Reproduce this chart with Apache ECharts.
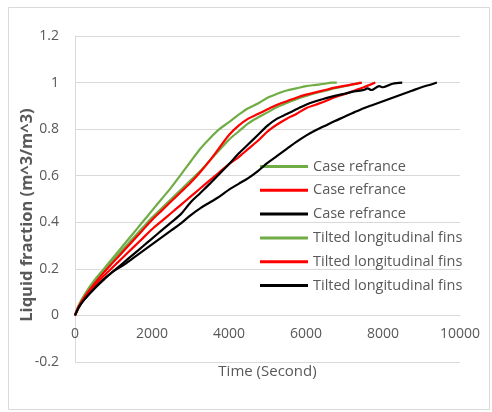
<!DOCTYPE html>
<html>
<head>
<meta charset="utf-8">
<script src="https://cdn.jsdelivr.net/npm/echarts@6/dist/echarts.min.js"></script>
<style>
html,body{margin:0;padding:0;background:#fff;}
#chart{width:492px;height:412px;}
</style>
</head>
<body>
<div id="chart"></div>
<script>
// Legend labels
var legendNames = ["Case refrance", "Case refrance", "Case refrance",
                   "Tilted longitudinal fins", "Tilted longitudinal fins", "Tilted longitudinal fins"];
var seriesColors = ["#70AD47", "#FF0000", "#000000", "#70AD47", "#FF0000", "#000000"];

// Axis ticks
var xTicks = [0, 2000, 4000, 6000, 8000, 10000];
var yTicks = [-0.2, 0, 0.2, 0.4, 0.6, 0.8, 1, 1.2];

// Case refrance - green
var timeCaseGreen = [0,100,250,500,750,1000,1250,1500,1750,2000,2250,2500,2750,3000,3250,3500,3750,4000,4250,4500,4750,5000,5250,5500,5750,6000,6250,6500,6750,7000,7250,7400];
var fracCaseGreen = [0,0.042,0.085,0.142,0.192,0.24,0.285,0.33,0.375,0.42,0.46,0.5,0.54,0.58,0.62,0.665,0.71,0.755,0.79,0.825,0.85,0.872,0.895,0.912,0.928,0.942,0.955,0.965,0.976,0.985,0.993,1.0];

// Case refrance - red
var timeCaseRed = [0,100,250,500,750,1000,1250,1500,1750,2000,2250,2500,2750,3000,3250,3500,3750,4000,4250,4500,4750,5000,5250,5500,5750,6000,6250,6500,6750,7000,7250,7500,7650,7800];
var fracCaseRed = [0,0.035,0.075,0.125,0.17,0.21,0.25,0.29,0.33,0.37,0.405,0.44,0.475,0.51,0.545,0.58,0.615,0.65,0.68,0.715,0.75,0.79,0.82,0.845,0.865,0.89,0.905,0.92,0.937,0.95,0.965,0.98,0.99,1.0];

// Case refrance - black
var timeCaseBlack = [0,100,250,500,750,1000,1250,1500,1750,2000,2250,2500,2750,3000,3250,3500,3750,4000,4250,4500,4750,5000,5250,5500,5750,6000,6250,6500,6750,7000,7250,7500,7750,8000,8250,8500,8750,9000,9250,9400];
var fracCaseBlack = [0,0.035,0.07,0.115,0.155,0.19,0.215,0.245,0.275,0.305,0.335,0.365,0.395,0.43,0.46,0.485,0.51,0.54,0.565,0.59,0.62,0.655,0.685,0.715,0.745,0.772,0.795,0.815,0.835,0.853,0.872,0.89,0.905,0.92,0.935,0.95,0.965,0.98,0.992,1.0];

// Tilted longitudinal fins - green
var timeFinsGreen = [0,100,250,500,750,1000,1250,1500,1750,2000,2250,2500,2750,3000,3250,3500,3750,4000,4250,4500,4750,5000,5250,5500,5750,6000,6250,6500,6650,6800];
var fracFinsGreen = [0,0.045,0.09,0.15,0.2,0.25,0.3,0.35,0.4,0.45,0.5,0.55,0.605,0.66,0.715,0.76,0.8,0.83,0.862,0.89,0.91,0.935,0.952,0.966,0.975,0.985,0.99,0.995,1.0,1.0];

// Tilted longitudinal fins - red
var timeFinsRed = [0,100,250,500,750,1000,1250,1500,1750,2000,2250,2500,2750,3000,3250,3500,3750,4000,4250,4500,4750,5000,5250,5500,5750,6000,6250,6500,6750,7000,7250,7450];
var fracFinsRed = [0,0.04,0.08,0.135,0.185,0.23,0.275,0.32,0.365,0.41,0.45,0.49,0.53,0.57,0.615,0.665,0.72,0.775,0.815,0.845,0.865,0.885,0.905,0.92,0.935,0.948,0.958,0.968,0.978,0.986,0.993,1.0];

// Tilted longitudinal fins - black
var timeFinsBlack = [0,100,250,500,750,1000,1250,1500,1750,2000,2250,2500,2750,3000,3250,3500,3750,4000,4250,4500,4750,5000,5250,5500,5750,6000,6250,6500,6750,7000,7250,7500,7600,7700,7900,8000,8250,8500];
var fracFinsBlack = [0,0.035,0.07,0.115,0.155,0.19,0.225,0.26,0.295,0.33,0.365,0.4,0.435,0.485,0.525,0.565,0.607,0.65,0.695,0.735,0.775,0.815,0.845,0.865,0.885,0.905,0.92,0.932,0.943,0.952,0.962,0.968,0.975,0.968,0.985,0.98,0.995,1.0];

var seriesTimes = [timeCaseGreen, timeCaseRed, timeCaseBlack, timeFinsGreen, timeFinsRed, timeFinsBlack];
var seriesFracs = [fracCaseGreen, fracCaseRed, fracCaseBlack, fracFinsGreen, fracFinsRed, fracFinsBlack];

function pairs(ts, vs) {
  var out = [];
  for (var i = 0; i < ts.length; i++) out.push([ts[i], vs[i]]);
  return out;
}

var series = [];
var legendData = [];
for (var k = 0; k < 6; k++) {
  var id = legendNames[k] + '#' + k;
  legendData.push(id);
  series.push({
    name: id,
    type: 'line',
    data: pairs(seriesTimes[k], seriesFracs[k]),
    showSymbol: false,
    smooth: 0.3,
    color: seriesColors[k],
    lineStyle: { width: 2.2, color: seriesColors[k] },
    z: 2 + k
  });
}

var FONT = "'Open Sans', sans-serif";
var GRID_TOP = 36, GRID_BOTTOM = 50;
var plotH = 412 - GRID_TOP - GRID_BOTTOM;
var yMin = yTicks[0], yMax = yTicks[yTicks.length - 1];
// distance from bottom of plot to the y = 0 line
var zeroOffset = plotH * (0 - yMin) / (yMax - yMin);

var chart = echarts.init(document.getElementById('chart'), null, { renderer: 'canvas' });
chart.setOption({
  animation: false,
  backgroundColor: '#ffffff',
  graphic: [{
    type: 'rect',
    shape: { x: 8.5, y: 7.5, width: 481, height: 402 },
    style: { fill: 'none', stroke: '#d9d9d9', lineWidth: 1 },
    silent: true
  }, {
    type: 'text',
    x: 27,
    y: 215,
    rotation: Math.PI / 2,
    style: {
      text: 'Liquid fraction (m^3/m^3)',
      textAlign: 'center',
      textVerticalAlign: 'middle',
      fontFamily: FONT,
      fontSize: 16.5,
      fontWeight: 'bold',
      fill: '#595959'
    },
    silent: true
  }],
  grid: { left: 75, right: 32, top: GRID_TOP, bottom: GRID_BOTTOM, containLabel: false, outerBoundsMode: 'none' },
  legend: {
    data: legendData,
    orient: 'vertical',
    left: 260,
    top: 159,
    padding: 0,
    itemWidth: 48,
    itemHeight: 3,
    itemGap: 8.8,
    icon: 'rect',
    formatter: function (n) { return n.split('#')[0]; },
    textStyle: { fontFamily: FONT, fontSize: 14.5, color: '#595959', lineHeight: 14 }
  },
  xAxis: {
    type: 'value',
    min: xTicks[0],
    max: xTicks[xTicks.length - 1],
    interval: xTicks[1] - xTicks[0],
    offset: -zeroOffset,
    name: 'Time (Second)',
    nameLocation: 'middle',
    nameGap: 49,
    nameTextStyle: { fontFamily: FONT, fontSize: 15, color: '#595959' },
    axisLine: { onZero: false, lineStyle: { color: '#d9d9d9', width: 1 } },
    axisTick: { show: false },
    splitLine: { show: false },
    axisLabel: {
      fontFamily: FONT, fontSize: 14, color: '#595959', margin: 12,
      formatter: function (v) { return String(v); }
    }
  },
  yAxis: {
    type: 'value',
    min: yMin,
    max: yMax,
    interval: 0.2,
    axisLine: { show: true, onZero: false, lineStyle: { color: '#d9d9d9', width: 1 } },
    axisTick: { show: false },
    splitLine: { show: true, lineStyle: { color: '#d9d9d9', width: 1 } },
    axisLabel: {
      fontFamily: FONT, fontSize: 14, color: '#595959', margin: 16,
      formatter: function (v) { return String(+v.toFixed(1)); }
    }
  },
  series: series
});
</script>
</body>
</html>
